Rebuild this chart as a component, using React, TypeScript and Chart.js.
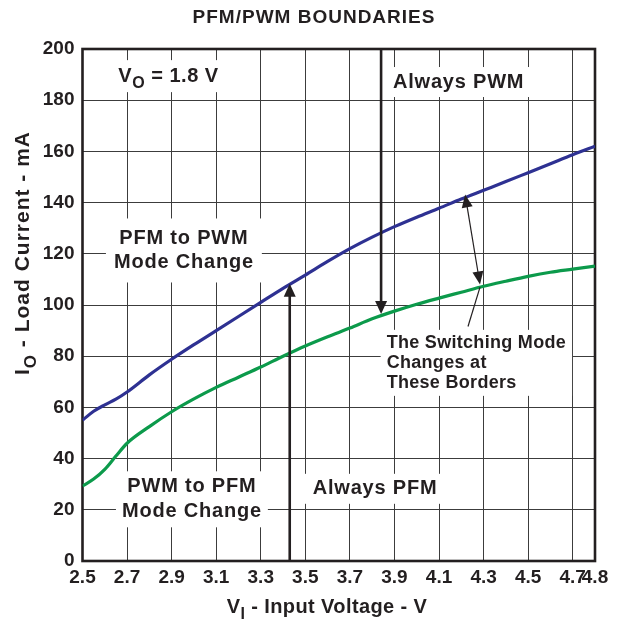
import React, { useEffect, useRef } from 'react';
import { Chart, registerables } from 'chart.js';

Chart.register(...registerables);

// ---- data ----
const inputVoltage = [2.5, 2.55, 2.6, 2.65, 2.7, 2.8, 2.9, 3.0, 3.1, 3.2, 3.3, 3.4, 3.5, 3.6, 3.7, 3.8, 3.9, 4.0, 4.1, 4.2, 4.3, 4.4, 4.5, 4.6, 4.7, 4.8];
// PFM -> PWM border (blue)
const pfmToPwmCurrent = [55, 58.5, 61, 63.2, 66, 72.7, 78.8, 84.5, 90, 95.5, 101, 106.5, 111.7, 117, 122, 126.5, 130.6, 134.3, 137.8, 141.4, 144.8, 148.2, 151.7, 155.2, 158.7, 162];
// PWM -> PFM border (green)
const pwmToPfmCurrent = [29.3, 32, 35.8, 41, 46, 52.5, 58.3, 63.3, 67.8, 71.8, 75.8, 80, 84, 87.6, 91, 94.6, 97.6, 100.3, 102.7, 105, 107.3, 109.3, 111.2, 112.8, 114, 115.2];
const xTickValues = [2.5, 2.7, 2.9, 3.1, 3.3, 3.5, 3.7, 3.9, 4.1, 4.3, 4.5, 4.7, 4.8];
const yTickValues = [0, 20, 40, 60, 80, 100, 120, 140, 160, 180, 200];

const FONT = '"Liberation Sans", Arial, Helvetica, sans-serif';
const INK = '#231f20';

type Seg = { text: string; sub?: boolean };
type Note = {
  lines: Seg[][];
  x: number; // data coords
  y: number;
  size: number;
  spacing: number;
  lineHeight: number;
  align: 'left' | 'center';
  padX: number;
  padY: number;
};

const notes: Note[] = [
  { lines: [[{ text: 'V' }, { text: 'O', sub: true }, { text: ' = 1.8 V' }]], x: 2.886, y: 189.4, size: 20, spacing: 0.5, lineHeight: 24, align: 'center', padX: 8, padY: 4 },
  { lines: [[{ text: 'Always PWM' }]], x: 4.188, y: 187.1, size: 20, spacing: 0.8, lineHeight: 24, align: 'center', padX: 6, padY: 3 },
  { lines: [[{ text: 'PFM to PWM' }], [{ text: 'Mode Change' }]], x: 2.955, y: 121.3, size: 20, spacing: 0.8, lineHeight: 24, align: 'center', padX: 8, padY: 8 },
  { lines: [[{ text: 'PWM to PFM' }], [{ text: 'Mode Change' }]], x: 2.991, y: 24.1, size: 20, spacing: 0.8, lineHeight: 25, align: 'center', padX: 6, padY: 3 },
  { lines: [[{ text: 'Always PFM' }]], x: 3.813, y: 28.2, size: 20, spacing: 0.8, lineHeight: 24, align: 'center', padX: 10, padY: 3 },
  { lines: [[{ text: 'The Switching Mode' }], [{ text: 'Changes at' }], [{ text: 'These Borders' }]], x: 3.865, y: 77.4, size: 18, spacing: 0.3, lineHeight: 20, align: 'left', padX: 6, padY: 3 },
];

type Arrow = { x1: number; y1: number; x2: number; y2: number; lw: number; headLen: number; headW: number; heads: 'end' | 'both' | 'none' };
const arrows: Arrow[] = [
  { x1: 3.43, y1: 0, x2: 3.43, y2: 108.3, lw: 2.6, headLen: 13, headW: 12, heads: 'end' },
  { x1: 3.84, y1: 200, x2: 3.84, y2: 96.5, lw: 2.6, headLen: 13, headW: 12, heads: 'end' },
  { x1: 4.284, y1: 108, x2: 4.217, y2: 143.2, lw: 1.2, headLen: 13, headW: 11, heads: 'both' },
  { x1: 4.23, y1: 91.6, x2: 4.284, y2: 107, lw: 1.2, headLen: 0, headW: 0, heads: 'none' },
];

function fontOf(size: number) {
  return `bold ${size}px ${FONT}`;
}

function measureSegs(ctx: CanvasRenderingContext2D, segs: Seg[], size: number, spacing: number) {
  ctx.letterSpacing = `${spacing}px`;
  return segs.map((s) => {
    ctx.font = fontOf(s.sub ? Math.round(size * 0.8) : size);
    return ctx.measureText(s.text).width;
  });
}

function drawSegs(ctx: CanvasRenderingContext2D, segs: Seg[], x: number, y: number, size: number, spacing: number, align: 'left' | 'center') {
  const widths = measureSegs(ctx, segs, size, spacing);
  const total = widths.reduce((a, b) => a + b, 0);
  let cx = align === 'center' ? x - total / 2 : x;
  ctx.textAlign = 'left';
  ctx.textBaseline = 'middle';
  ctx.fillStyle = INK;
  segs.forEach((s, i) => {
    const sz = s.sub ? Math.round(size * 0.8) : size;
    ctx.font = fontOf(sz);
    ctx.letterSpacing = `${spacing}px`;
    ctx.fillText(s.text, cx, y + (s.sub ? size * 0.38 : 0));
    cx += widths[i];
  });
  return total;
}

function drawHead(ctx: CanvasRenderingContext2D, tx: number, ty: number, ang: number, len: number, w: number) {
  ctx.beginPath();
  ctx.moveTo(tx, ty);
  ctx.lineTo(tx - len * Math.cos(ang) + (w / 2) * Math.sin(ang), ty - len * Math.sin(ang) - (w / 2) * Math.cos(ang));
  ctx.lineTo(tx - len * Math.cos(ang) - (w / 2) * Math.sin(ang), ty - len * Math.sin(ang) + (w / 2) * Math.cos(ang));
  ctx.closePath();
  ctx.fill();
}

const decorPlugin = {
  id: 'decor',
  beforeDatasetsDraw(chart: any) {
    const { ctx, chartArea, scales } = chart;
    const xs = scales.x;
    const ys = scales.y;
    ctx.save();
    // white boxes that interrupt the grid behind the labels
    notes.forEach((n) => {
      const cx = xs.getPixelForValue(n.x);
      const cy = ys.getPixelForValue(n.y);
      let maxW = 0;
      n.lines.forEach((l) => {
        const w = measureSegs(ctx, l, n.size, n.spacing).reduce((a, b) => a + b, 0);
        maxW = Math.max(maxW, w);
      });
      const h = n.lines.length * n.lineHeight;
      const left = n.align === 'center' ? cx - maxW / 2 : cx;
      ctx.fillStyle = '#ffffff';
      ctx.fillRect(left - n.padX, cy - h / 2 - n.padY, maxW + n.padX * 2, h + n.padY * 2);
    });
    // frame
    ctx.strokeStyle = INK;
    ctx.lineWidth = 2.6;
    ctx.strokeRect(chartArea.left, chartArea.top, chartArea.right - chartArea.left, chartArea.bottom - chartArea.top);
    ctx.restore();
  },
  afterDatasetsDraw(chart: any) {
    const { ctx, scales } = chart;
    const xs = scales.x;
    const ys = scales.y;
    ctx.save();
    // arrows
    arrows.forEach((a) => {
      const x1 = xs.getPixelForValue(a.x1);
      const y1 = ys.getPixelForValue(a.y1);
      const x2 = xs.getPixelForValue(a.x2);
      const y2 = ys.getPixelForValue(a.y2);
      const ang = Math.atan2(y2 - y1, x2 - x1);
      ctx.strokeStyle = INK;
      ctx.fillStyle = INK;
      ctx.lineWidth = a.lw;
      const sx = a.heads === 'both' ? x1 + Math.cos(ang) * a.headLen * 0.8 : x1;
      const sy = a.heads === 'both' ? y1 + Math.sin(ang) * a.headLen * 0.8 : y1;
      const ex = a.heads !== 'none' ? x2 - Math.cos(ang) * a.headLen * 0.8 : x2;
      const ey = a.heads !== 'none' ? y2 - Math.sin(ang) * a.headLen * 0.8 : y2;
      ctx.beginPath();
      ctx.moveTo(sx, sy);
      ctx.lineTo(ex, ey);
      ctx.stroke();
      if (a.heads !== 'none') drawHead(ctx, x2, y2, ang, a.headLen, a.headW);
      if (a.heads === 'both') drawHead(ctx, x1, y1, ang + Math.PI, a.headLen, a.headW);
    });
    // annotation texts
    notes.forEach((n) => {
      const cx = xs.getPixelForValue(n.x);
      const cy = ys.getPixelForValue(n.y);
      const h = n.lines.length * n.lineHeight;
      n.lines.forEach((l, i) => {
        drawSegs(ctx, l, cx, cy - h / 2 + n.lineHeight * (i + 0.5), n.size, n.spacing, n.align);
      });
    });
    ctx.restore();
  },
  afterDraw(chart: any) {
    const { ctx } = chart;
    ctx.save();
    // title
    drawSegs(ctx, [{ text: 'PFM/PWM BOUNDARIES' }], 314, 18, 19, 1.0, 'center');
    // x axis title
    drawSegs(ctx, [{ text: 'V' }, { text: 'I', sub: true }, { text: ' - Input Voltage - V' }], 327, 607, 20, 0.4, 'center');
    // y axis title
    ctx.translate(23, 253);
    ctx.rotate(-Math.PI / 2);
    drawSegs(ctx, [{ text: 'I' }, { text: 'O', sub: true }, { text: ' - Load Current - mA' }], 0, 0, 21, 1.0, 'center');
    ctx.restore();
  },
};

export default function App() {
  const canvasRef = useRef<HTMLCanvasElement | null>(null);

  useEffect(() => {
    const canvas = canvasRef.current;
    if (!canvas) return;
    const blue = inputVoltage.map((v, i) => ({ x: v, y: pfmToPwmCurrent[i] }));
    const green = inputVoltage.map((v, i) => ({ x: v, y: pwmToPfmCurrent[i] }));
    const tickFont = { family: FONT, size: 19, weight: 'bold' as const };
    const chart = new Chart(canvas, {
      type: 'line',
      data: {
        datasets: [
          { label: 'PFM to PWM', data: blue, borderColor: '#2e3192', borderWidth: 3.2, pointRadius: 0, cubicInterpolationMode: 'monotone', fill: false },
          { label: 'PWM to PFM', data: green, borderColor: '#0c9a4b', borderWidth: 3.2, pointRadius: 0, cubicInterpolationMode: 'monotone', fill: false },
        ],
      },
      options: {
        animation: false,
        responsive: true,
        maintainAspectRatio: false,
        layout: { padding: { top: 49, right: 23, left: 0, bottom: 0 } },
        plugins: { legend: { display: false }, tooltip: { enabled: false }, title: { display: false } },
        scales: {
          x: {
            type: 'linear',
            min: 2.5,
            max: 4.8,
            afterBuildTicks: (scale: any) => {
              scale.ticks = xTickValues.map((v) => ({ value: v }));
            },
            afterFit: (scale: any) => {
              scale.height = 66;
            },
            ticks: {
              autoSkip: false,
              maxRotation: 0,
              padding: 5,
              color: INK,
              font: tickFont,
              callback: (v: any) => Number(v).toFixed(1),
            },
            grid: { color: '#3c3c3c', lineWidth: 1, drawTicks: false },
            border: { display: false },
          },
          y: {
            type: 'linear',
            min: 0,
            max: 200,
            afterBuildTicks: (scale: any) => {
              scale.ticks = yTickValues.map((v) => ({ value: v }));
            },
            afterFit: (scale: any) => {
              scale.width = 82.5;
            },
            ticks: {
              padding: 8,
              color: INK,
              font: tickFont,
              callback: (v: any) => String(v),
            },
            grid: { color: '#3c3c3c', lineWidth: 1, drawTicks: false },
            border: { display: false },
          },
        },
      },
      plugins: [decorPlugin],
    } as any);
    return () => chart.destroy();
  }, []);

  return (
    <div style={{ position: 'fixed', left: 0, top: 0, width: 618, height: 627, background: '#ffffff' }}>
      <canvas ref={canvasRef} />
    </div>
  );
}
